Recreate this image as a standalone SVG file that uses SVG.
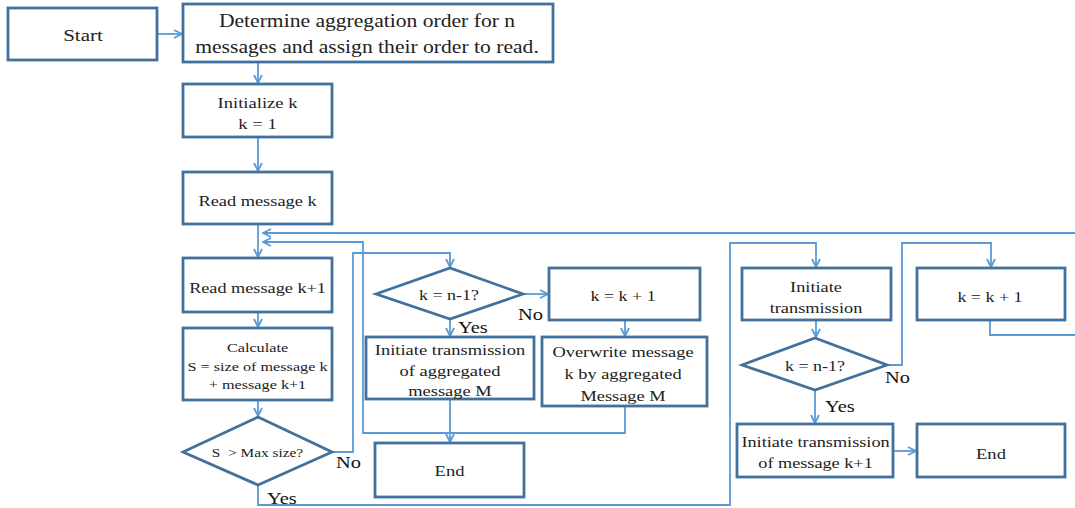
<svg xmlns="http://www.w3.org/2000/svg" width="1075" height="508" viewBox="0 0 1075 508" font-family="'Liberation Serif', 'Times New Roman', serif">
<defs>
<style>
.n{fill:#fff;stroke:#41719C;stroke-width:2.8}
.t{fill:#222;text-anchor:middle}
.c{fill:none;stroke:#5B9BD5;stroke-width:1.8}
.l{fill:#111;font-size:17px}
</style>
<marker id="a" viewBox="0 0 10 10" refX="9" refY="5" markerWidth="10" markerHeight="10" markerUnits="userSpaceOnUse" orient="auto">
<path d="M1,1 L9,5 L1,9" fill="none" stroke="#5B9BD5" stroke-width="1.8"/>
</marker>
</defs>
<rect width="1075" height="508" fill="#fff"/>
<g id="connectors">
<path class="c" d="M157,34 H182" marker-end="url(#a)"/>
<path class="c" d="M258,62 V83" marker-end="url(#a)"/>
<path class="c" d="M258,137 V171" marker-end="url(#a)"/>
<path class="c" d="M258,224 V257" marker-end="url(#a)"/>
<path class="c" d="M258,312 V327" marker-end="url(#a)"/>
<path class="c" d="M258,400 V416" marker-end="url(#a)"/>
<path class="c" d="M1075,233 H263" marker-end="url(#a)"/>
<path class="c" d="M625,406 V433 H363 V242 H263" marker-end="url(#a)"/>
<path class="c" d="M450,399 V442" marker-end="url(#a)"/>
<path class="c" d="M332,452 H353 V253 H450 V267" marker-end="url(#a)"/>
<path class="c" d="M258,485 V505 H730 V243 H816 V267" marker-end="url(#a)"/>
<path class="c" d="M523,294 H548" marker-end="url(#a)"/>
<path class="c" d="M450,319 V336" marker-end="url(#a)"/>
<path class="c" d="M625,320 V336" marker-end="url(#a)"/>
<path class="c" d="M816,320 V337" marker-end="url(#a)"/>
<path class="c" d="M887,365 H902 V243 H991 V267" marker-end="url(#a)"/>
<path class="c" d="M815,390 V423" marker-end="url(#a)"/>
<path class="c" d="M894,451 H916" marker-end="url(#a)"/>
<path class="c" d="M990,320 V335 H1075"/>
</g>
<g id="start"><rect class="n" x="8" y="8" width="149" height="52"/><g transform="scale(1.2,1)"><text class="t" x="69.17" y="41" font-size="17.5">Start</text></g></g>
<g id="determine"><rect class="n" x="183" y="4" width="370" height="58"/><g transform="scale(1.2,1)"><text class="t" x="305.83" y="27" font-size="18">Determine aggregation order for n</text><text class="t" x="305.83" y="53" font-size="18">messages and assign their order to read.</text></g></g>
<g id="init"><rect class="n" x="183" y="84" width="149" height="53"/><g transform="scale(1.2,1)"><text class="t" x="214.6" y="108" font-size="15.5">Initialize k</text><text class="t" x="214.6" y="129" font-size="15.5">k = 1</text></g></g>
<g id="readk"><rect class="n" x="183" y="172" width="149" height="52"/><g transform="scale(1.2,1)"><text class="t" x="214.6" y="206" font-size="15.3">Read message k</text></g></g>
<g id="readk1"><rect class="n" x="183" y="258" width="149" height="54"/><g transform="scale(1.2,1)"><text class="t" x="214.6" y="293" font-size="15.2">Read message k+1</text></g></g>
<g id="calc"><rect class="n" x="183" y="328" width="149" height="72"/><g transform="scale(1.2,1)"><text class="t" x="214.6" y="352" font-size="13.5">Calculate</text><text class="t" x="214.6" y="371" font-size="13.5">S = size of message k</text><text class="t" x="214.6" y="389" font-size="13.5">+ message k+1</text></g></g>
<g id="maxsize"><polygon class="n" points="183,452 258,417 332,452 258,485"/><g transform="scale(1.2,1)"><text class="t" x="214.6" y="457" font-size="12.8" xml:space="preserve">S  &gt; Max size?</text></g></g>
<g id="dec1"><polygon class="n" points="376,294 450,268 523,294 450,319"/><g transform="scale(1.2,1)"><text class="t" x="374.2" y="300" font-size="15">k = n-1?</text></g></g>
<g id="inc1"><rect class="n" x="549" y="268" width="151" height="52"/><g transform="scale(1.2,1)"><text class="t" x="519.2" y="301" font-size="15">k = k + 1</text></g></g>
<g id="txagg"><rect class="n" x="366" y="337" width="168" height="62"/><g transform="scale(1.2,1)"><text class="t" x="375" y="355" font-size="15.4">Initiate transmission</text><text class="t" x="375" y="376" font-size="15.4">of aggregated</text><text class="t" x="375" y="396" font-size="15.4">message M</text></g></g>
<g id="overwrite"><rect class="n" x="542" y="337" width="165" height="69"/><g transform="scale(1.2,1)"><text class="t" x="519.2" y="357" font-size="15.3">Overwrite message</text><text class="t" x="519.2" y="379" font-size="15.3">k by aggregated</text><text class="t" x="519.2" y="401" font-size="15.3">Message M</text></g></g>
<g id="end1"><rect class="n" x="375" y="443" width="149" height="54"/><g transform="scale(1.2,1)"><text class="t" x="374.6" y="476" font-size="15.5">End</text></g></g>
<g id="tx"><rect class="n" x="742" y="268" width="149" height="52"/><g transform="scale(1.2,1)"><text class="t" x="680" y="292" font-size="15.3">Initiate</text><text class="t" x="680" y="313" font-size="15.3">transmission</text></g></g>
<g id="dec2"><polygon class="n" points="742,365 815,338 887,365 815,390"/><g transform="scale(1.2,1)"><text class="t" x="679.2" y="371" font-size="15">k = n-1?</text></g></g>
<g id="inc2"><rect class="n" x="917" y="268" width="148" height="52"/><g transform="scale(1.2,1)"><text class="t" x="825" y="302" font-size="15">k = k + 1</text></g></g>
<g id="txk1"><rect class="n" x="737" y="424" width="156" height="53"/><g transform="scale(1.2,1)"><text class="t" x="679.6" y="447" font-size="15.2">Initiate transmission</text><text class="t" x="679.6" y="468" font-size="15.2">of message k+1</text></g></g>
<g id="end2"><rect class="n" x="917" y="424" width="148" height="53"/><g transform="scale(1.2,1)"><text class="t" x="825.8" y="459" font-size="15.5">End</text></g></g>
<g id="labels" transform="scale(1.2,1)">
<text class="l" x="280" y="468">No</text>
<text class="l" x="222.5" y="504">Yes</text>
<text class="l" x="381.7" y="333">Yes</text>
<text class="l" x="431.7" y="320">No</text>
<text class="l" x="737.5" y="383">No</text>
<text class="l" x="687.5" y="412">Yes</text>
</g>
</svg>
